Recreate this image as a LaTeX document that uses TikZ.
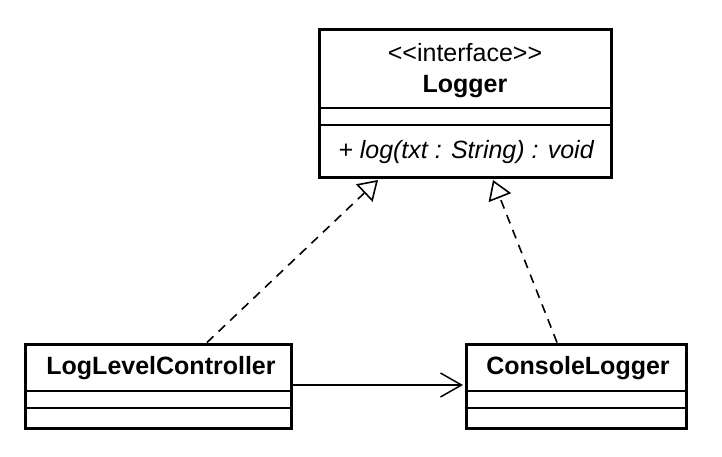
\documentclass[tikz,border=0pt]{standalone}
\usepackage{fontspec}
\setmainfont{Liberation Sans}
\usetikzlibrary{arrows.meta}
\begin{document}
\begin{tikzpicture}[x=1pt,y=-1pt,
  classbox/.style={draw, line width=3pt, rectangle, inner sep=0pt},
  sep/.style={line width=1.4pt},
  lbl/.style={inner sep=0pt, font=\fontsize{25}{29}\selectfont},
  realize/.style={line width=1.6pt, dash pattern=on 9pt off 7pt,
    -{Triangle[open, length=19pt, width=24pt, line width=1.6pt]}},
  assoc/.style={line width=1.5pt, -{Straight Barb[length=21pt, width=24pt, line width=1.5pt]}}]
\useasboundingbox (0,0) rectangle (722,456);
% Logger
\node[classbox, minimum width=292pt, minimum height=148pt] (logger) at (465,103) {};
\node[lbl] (stereo) at (465,53) {<\kern0pt<interface>\kern0pt>};
\node[lbl, font=\fontsize{25}{29}\selectfont\bfseries] (lname) at (465,87) {Logger};
\node[lbl, font=\fontsize{25}{29}\selectfont\itshape] (lmeth) at (466,152) {+ log(txt : String) : void};
\draw[sep] (logger.west |- 0,108) -- (logger.east |- 0,108);
\draw[sep] (logger.west |- 0,125) -- (logger.east |- 0,125);
% LogLevelController
\node[classbox, minimum width=266pt, minimum height=84pt] (llc) at (158,386) {};
\node[lbl, font=\fontsize{25}{29}\selectfont\bfseries] (llcname) at (161,368) {LogLevelController};
\draw[sep] (llc.west |- 0,391) -- (llc.east |- 0,391);
\draw[sep] (llc.west |- 0,408) -- (llc.east |- 0,408);
% ConsoleLogger
\node[classbox, minimum width=220pt, minimum height=84pt] (cl) at (576,386) {};
\node[lbl, font=\fontsize{25}{29}\selectfont\bfseries] (clname) at (578,368) {ConsoleLogger};
\draw[sep] (cl.west |- 0,391) -- (cl.east |- 0,391);
\draw[sep] (cl.west |- 0,408) -- (cl.east |- 0,408);
% connectors
\draw[realize] ([xshift=49pt]llc.north) -- ([xshift=-87pt, yshift=-1.5pt]logger.south);
\draw[realize] ([xshift=-19pt]cl.north) -- ([xshift=28pt, yshift=-1.5pt]logger.south);
\draw[assoc] (llc.east |- 0,385) -- ([xshift=-1.5pt]cl.west |- 0,385);
\end{tikzpicture}
\end{document}
